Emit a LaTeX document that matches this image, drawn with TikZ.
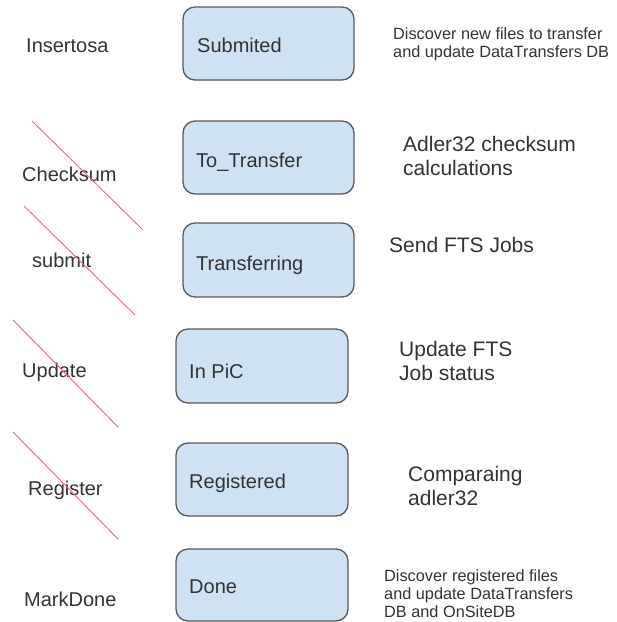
\documentclass[tikz,border=0pt]{standalone}
\usepackage{fontspec}
\setmainfont{Liberation Sans}
\definecolor{boxfill}{HTML}{CFE2F3}
\definecolor{boxline}{HTML}{595959}
\definecolor{txt}{HTML}{333333}
\definecolor{strike}{HTML}{E3687E}
\begin{document}
\begin{tikzpicture}[x=1pt,y=-1pt,
  state/.style={draw=boxline,fill=boxfill,line width=1.3pt,rounded corners=12pt},
  big/.style={font=\fontsize{20}{22}\selectfont,text=txt,inner sep=0pt,anchor=base west},
  note/.style={font=\fontsize{21}{24}\selectfont,text=txt,inner sep=0pt,anchor=base west,align=left},
  small/.style={font=\fontsize{16.3}{18.3}\selectfont,text=txt,inner sep=0pt,anchor=north west,align=left},
  cross/.style={draw=strike,line width=0.9pt}]
\useasboundingbox (0,0) rectangle (617,622);
% boxes
\draw[state] (183,7) rectangle (354,80);
\draw[state] (183,121) rectangle (354,194);
\draw[state] (183,223) rectangle (354,297);
\draw[state] (176,329) rectangle (348,403);
\draw[state] (176,443) rectangle (348,516);
\draw[state] (176,549) rectangle (348,621);
% box labels
\node[big] (s1) at (197,52) {Submited};
\node[big] (s2) at (196,167) {To\_Transfer};
\node[big] (s3) at (196,270) {Transferring};
\node[big] (s4) at (189,378) {In PiC};
\node[big] (s5) at (189,488) {Registered};
\node[big] (s6) at (189,593) {Done};
% left labels
\node[big] (l1) at (26,52) {Insertosa};
\node[big] (l2) at (22,181) {Checksum};
\node[big] (l3) at (32,267) {submit};
\node[big] (l4) at (22,377) {Update};
\node[big] (l5) at (28,495) {Register};
\node[big] (l6) at (24,606) {MarkDone};
% right notes (base = baseline of the last line)
\node[small] (r1) at (393,27) {Discover new files to transfer\\and update DataTransfers DB};
\node[note] (r2) at (403,175) {Adler32 checksum\\calculations};
\node[note] (r3) at (389,252) {Send FTS Jobs};
\node[note] (r4) at (399,380) {Update FTS\\Job status};
\node[note] (r5) at (408,505) {Comparaing\\adler32};
\node[small] (r6) at (384,569) {Discover registered files\\and update DataTransfers\\DB and OnSiteDB};
% strike lines
\coordinate (a1) at (32,121); \coordinate (b1) at (143,230);
\coordinate (a2) at (24,206); \coordinate (b2) at (135,315);
\coordinate (a3) at (13,320); \coordinate (b3) at (118,427);
\coordinate (a4) at (13,432); \coordinate (b4) at (118,539);
\draw[cross] (a1) -- (b1);
\draw[cross] (a2) -- (b2);
\draw[cross] (a3) -- (b3);
\draw[cross] (a4) -- (b4);
\end{tikzpicture}
\end{document}
